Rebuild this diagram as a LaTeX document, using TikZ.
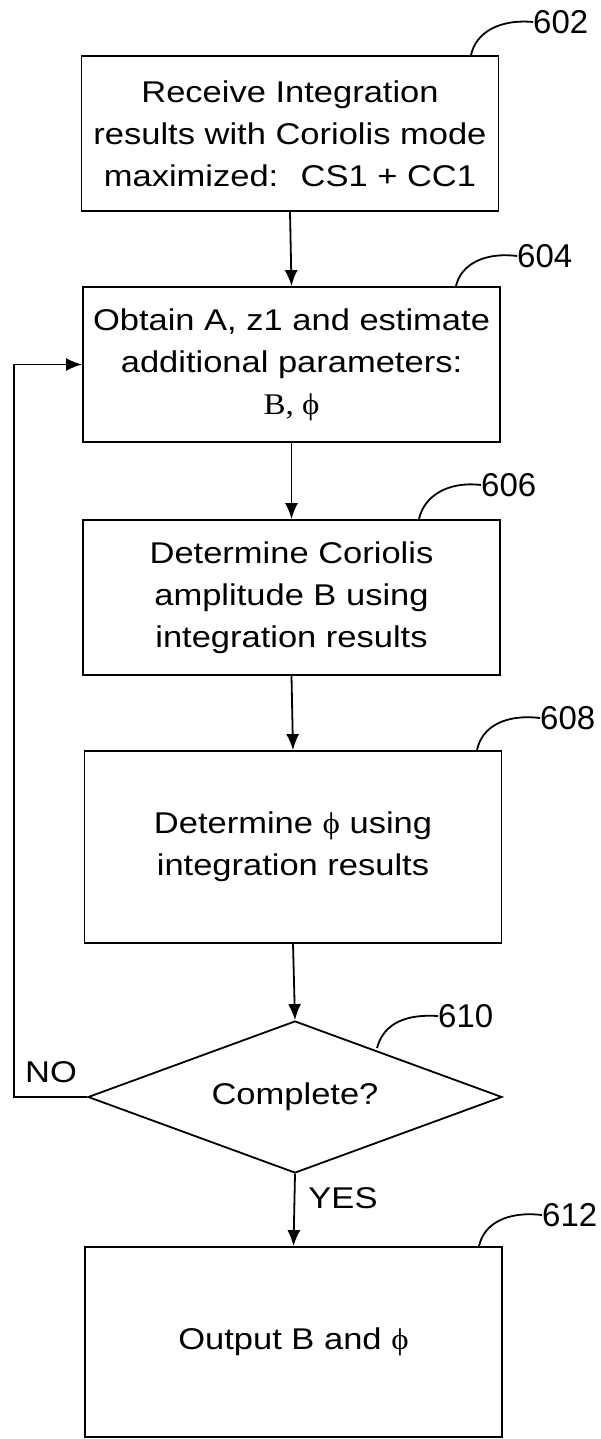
\documentclass[tikz,border=0pt]{standalone}
\usepackage{fontspec}
\setmainfont{Liberation Sans}
\newfontfamily\boxfont[FakeStretch=1.15]{Liberation Sans}
\newfontfamily\phifont[FakeStretch=1.1]{Liberation Serif}
\usepackage{tikz}
\usetikzlibrary{arrows.meta}
\usetikzlibrary{shapes.geometric}

\newcommand{\vphi}{{\phifont ϕ}}

\tikzset{
  stepbox/.style={draw, line width=1.8pt, minimum width=417pt, align=center,
    font=\boxfont\fontsize{30}{42}\selectfont, inner sep=0pt},
  decbox/.style={draw, line width=1.8pt, diamond, aspect=2.72, inner sep=0pt,
    minimum width=414pt, minimum height=152pt, font=\boxfont\fontsize{30}{42}\selectfont},
  flow/.style={line width=1.8pt, -{Latex[length=16pt,width=13pt]}},
  lead/.style={line width=1.8pt},
  refnum/.style={font=\fontsize{33}{36}\selectfont, inner sep=0pt},
  yesno/.style={font=\boxfont\fontsize{30}{36}\selectfont, inner sep=0pt}
}

\begin{document}
\begin{tikzpicture}[x=1pt,y=-1pt]
    \useasboundingbox (0,0) rectangle (600,1439);
    % boxes
    \node[stepbox, minimum height=155pt] (recv) at (290,133.5)
      {Receive Integration\\results with Coriolis mode\\maximized: \ CS1 + CC1};
    \node[stepbox, minimum height=155pt] (obtain) at (291.5,364.5)
      {Obtain A, z1 and estimate\\additional parameters:\\{\phifont B, \vphi}};
    \node[stepbox, minimum height=155pt] (amp) at (291.5,597.5)
      {Determine Coriolis\\amplitude B using\\integration results};
    \node[stepbox, minimum height=192pt] (phase) at (293,847)
      {Determine \vphi\ using\\integration results};
    \node[decbox] (done) at (295,1097) {Complete?};
    \node[stepbox, minimum height=190pt] (out) at (293.5,1342)
      {Output B and \vphi};
    % flow
    \draw[flow] (recv.south) -- (obtain.north);
    \draw[flow] (obtain.south) -- (amp.north);
    \draw[flow] (amp.south) -- (phase.north);
    \draw[flow] (phase.south) -- (done.north);
    \draw[flow] (done.south) -- (out.north);
    \coordinate (back) at (14,0);
    \draw[flow] (done.west) -- (done.west -| back) |- (obtain.west);
    \node[yesno] (no) at (51,1072) {NO};
    \node[yesno] (yes) at (343,1198) {YES};
    % reference numerals
    \node[refnum, anchor=west] (n602) at (533,22) {602};
    \node[refnum, anchor=west] (n604) at (517,256) {604};
    \node[refnum, anchor=west] (n606) at (481,485) {606};
    \node[refnum, anchor=west] (n608) at (540,718) {608};
    \node[refnum, anchor=west] (n610) at (438,1016) {610};
    \node[refnum, anchor=west] (n612) at (542,1215) {612};
    \draw[lead] (recv.north -| 471,0) .. controls (476,32) and (500,19) .. (n602.west);
    \draw[lead] (obtain.north -| 456,0) .. controls (461,264) and (485,252) .. (n604.west);
    \draw[lead] (amp.north -| 419,0) .. controls (424,496) and (448,481) .. (n606.west);
    \draw[lead] (phase.north -| 477,0) .. controls (482,726) and (506,714) .. (n608.west);
    \draw[lead] (377,1048) .. controls (384,1022) and (408,1014) .. (n610.west);
    \draw[lead] (out.north -| 479,0) .. controls (484,1223) and (508,1211) .. (n612.west);
\end{tikzpicture}
\end{document}
